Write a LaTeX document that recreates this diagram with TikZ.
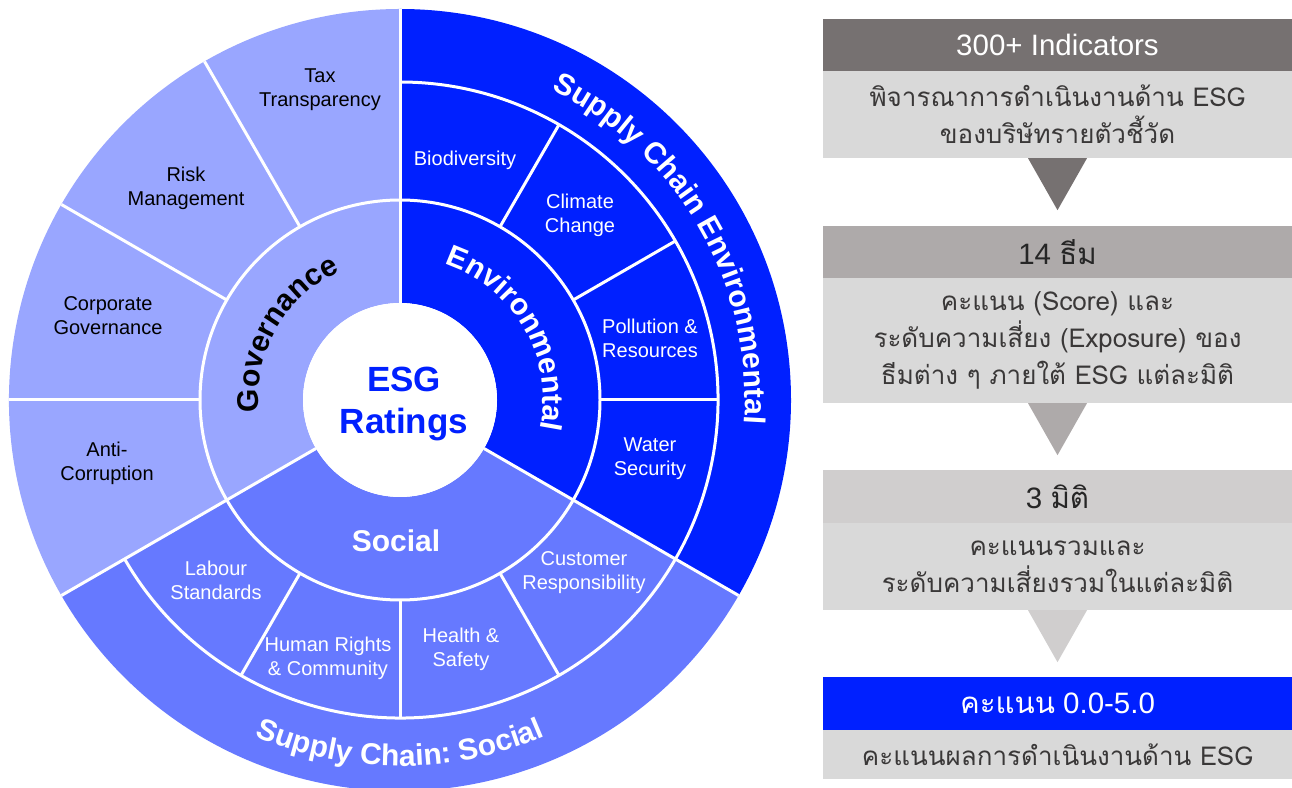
\documentclass[tikz,border=0pt]{standalone}
\usepackage{fontspec}
\setmainfont{Liberation Sans}
\newfontfamily\thaifont[Script=Thai]{Loma}
\usetikzlibrary{decorations.text, positioning, calc}

\definecolor{envblue}{HTML}{0020FF}
\definecolor{socblue}{HTML}{6679FF}
\definecolor{govblue}{HTML}{99A6FF}
\definecolor{hdone}{HTML}{767171}
\definecolor{hdtwo}{HTML}{AEAAAA}
\definecolor{hdthree}{HTML}{D0CECE}
\definecolor{bodygray}{HTML}{D9D9D9}
\definecolor{thaitext}{HTML}{3A3838}

% ring sector: colour, start, end, inner radius, outer radius
\newcommand{\ringpart}[5]{\fill[#1] (#2:#4) arc[start angle=#2,end angle=#3,radius=#4] -- (#3:#5) arc[start angle=#3,end angle=#2,radius=#5] -- cycle;}
\newcommand{\arclab}{\fontsize{30}{36}\selectfont\bfseries}

\tikzset{
  theme/.style={align=center, inner sep=0pt, font=\fontsize{20}{24}\selectfont},
  sep/.style={white, line width=3pt},
  head/.style={minimum width=469, inner sep=0pt, font=\fontsize{29.5}{33}\selectfont},
  body/.style={fill=bodygray, minimum width=469, inner sep=0pt, align=center, text=thaitext, font=\thaifont\fontsize{26}{37}\selectfont},
}

\begin{document}
\begin{tikzpicture}[x=1pt,y=1pt]
\clip (0,0) rectangle (1292,787);
% ESG wheel
\begin{scope}[shift={(400,387)}]
\ringpart{govblue}{90}{210}{97}{391}
\ringpart{envblue}{-30}{90}{97}{391}
\ringpart{socblue}{210}{330}{97}{391}
\fill[white] (0,0) circle[radius=97];
\draw[sep] (0,0) circle[radius=200];
\draw[sep] (210:318) arc[start angle=210,end angle=450,radius=318];
\foreach \a in {90,210,330} \draw[sep] (\a:97) -- (\a:391);
\foreach \a in {120,150,180} \draw[sep] (\a:200) -- (\a:391);
\foreach \a in {0,30,60,240,270,300} \draw[sep] (\a:200) -- (\a:318);

\node[align=center, text=envblue, font=\fontsize{35}{42}\selectfont\bfseries] (esg) at (4,-4) {ESG\\Ratings};
\node[text=white, font=\arclab] (soc) at (-4,-141) {Social};
\path[decorate, decoration={text along path, text align=center, text={|\arclab|Governance}}] (210:142) arc[start angle=210,end angle=90,radius=142];
\path[decorate, decoration={text along path, text align=center, text={|\arclab\color{white}|Environmental}}] (90:143) arc[start angle=90,end angle=-30,radius=143];
\path[decorate, decoration={text along path, text align=center, text={|\arclab\color{white}|Supply Chain Environmental}}] (90:345) arc[start angle=90,end angle=-30,radius=345];
\path[decorate, decoration={text along path, text align=center, text={|\arclab\color{white}|Supply Chain: Social}}] (210:366) arc[start angle=210,end angle=330,radius=366];

% themes
\node[theme] (gov_1) at (-80,310) {Tax\\Transparency};
\node[theme] (gov_2) at (-214,212) {Risk\\Management};
\node[theme] (gov_3) at (-292,84) {Corporate\\Governance};
\node[theme] (gov_4) at (-293,-63) {Anti-\\Corruption};
\node[theme, text=white] (env_1) at (65,240) {Biodiversity};
\node[theme, text=white] (env_2) at (180,185) {Climate\\Change};
\node[theme, text=white] (env_3) at (250,62) {Pollution \&\\Resources};
\node[theme, text=white] (env_4) at (250,-59) {Water\\Security};
\node[theme, text=white] (soc_1) at (-184,-180) {Labour\\Standards};
\node[theme, text=white] (soc_2) at (-72,-258) {Human Rights\\\& Community};
\node[theme, text=white] (soc_3) at (61,-249) {Health \&\\Safety};
\node[theme, text=white] (soc_4) at (184,-173) {Customer\\Responsibility};
\end{scope}

% rating steps
\node[head, fill=hdone, text=white, minimum height=52] (hd1) at (1057.5,742) {300+ Indicators};
\node[body, minimum height=87] (bd1) at (1057.5,672.5) {พิจารณาการดำเนินงานด้าน ESG\\ของบริษัทรายตัวชี้วัด};
\fill[hdone] ($(bd1.south)+(-29.5,0)$) -- ($(bd1.south)+(29.5,0)$) -- ($(bd1.south)+(0,-52)$) -- cycle;

\node[head, fill=hdtwo, text=black!85, minimum height=52] (hd2) at (1057.5,535) {14 {\thaifont ธีม}};
\node[body, minimum height=125] (bd2) at (1057.5,446.5) {คะแนน (Score) และ\\ระดับความเสี่ยง (Exposure) ของ\\ธีมต่าง ๆ ภายใต้ ESG แต่ละมิติ};
\fill[hdtwo] ($(bd2.south)+(-29.5,0)$) -- ($(bd2.south)+(29.5,0)$) -- ($(bd2.south)+(0,-52)$) -- cycle;

\node[head, fill=hdthree, text=black!85, minimum height=53] (hd3) at (1057.5,290.5) {3 {\thaifont มิติ}};
\node[body, minimum height=87] (bd3) at (1057.5,220.5) {คะแนนรวมและ\\ระดับความเสี่ยงรวมในแต่ละมิติ};
\fill[hdthree] ($(bd3.south)+(-29.5,0)$) -- ($(bd3.south)+(29.5,0)$) -- ($(bd3.south)+(0,-52)$) -- cycle;

\node[head, fill=envblue, text=white, minimum height=53] (hd4) at (1057.5,83.5) {{\thaifont คะแนน} 0.0-5.0};
\node[body, minimum height=49] (bd4) at (1057.5,32.5) {คะแนนผลการดำเนินงานด้าน ESG};
\end{tikzpicture}
\end{document}
